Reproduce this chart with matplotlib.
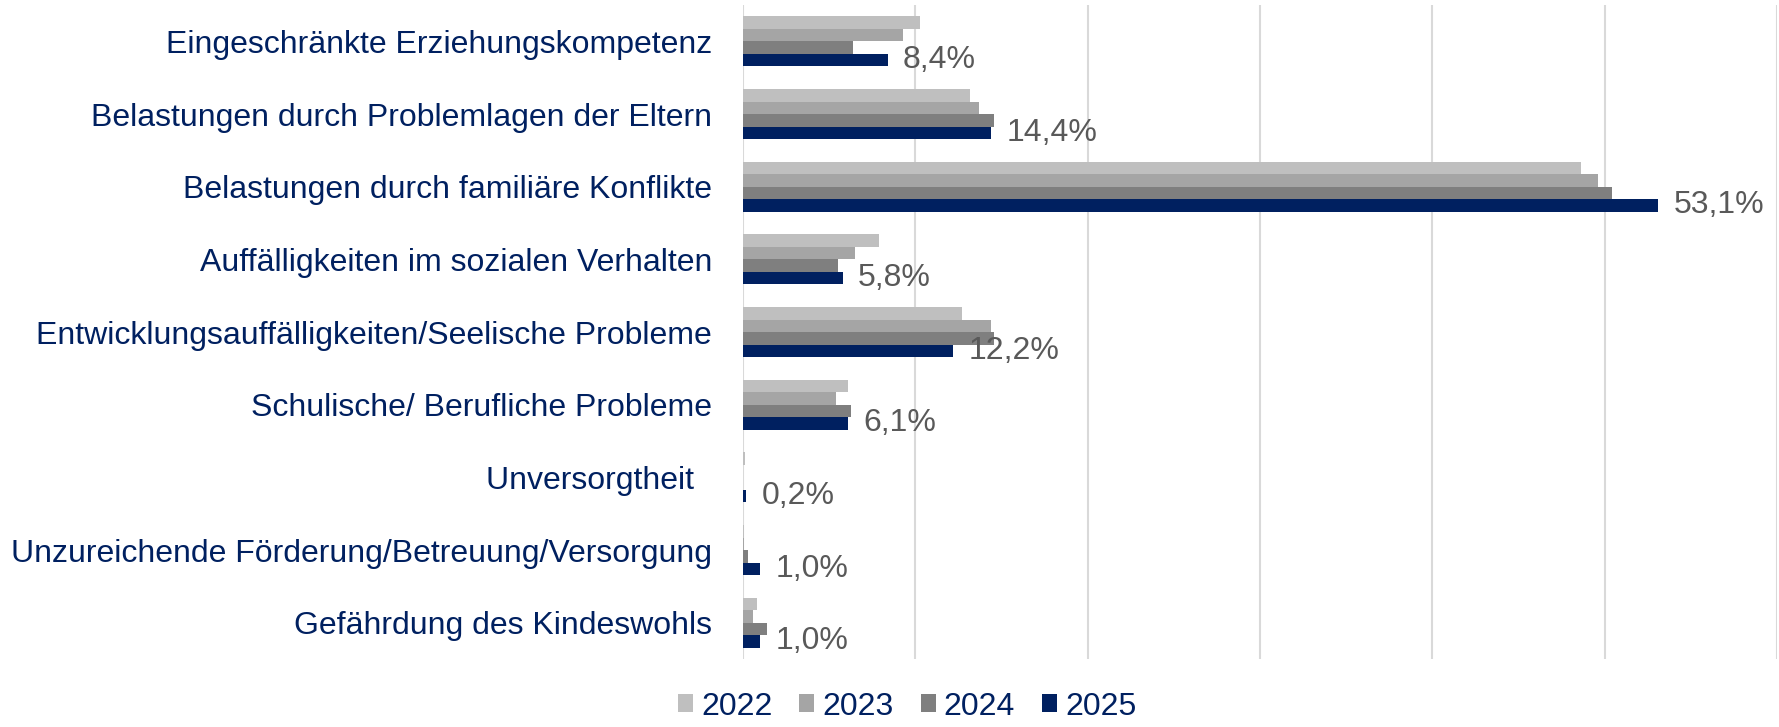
import numpy as np
import matplotlib
matplotlib.use("Agg")
import matplotlib.pyplot as plt

# Daten
kategorien = [
    "Eingeschränkte Erziehungskompetenz",
    "Belastungen durch Problemlagen der Eltern",
    "Belastungen durch familiäre Konflikte",
    "Auffälligkeiten im sozialen Verhalten",
    "Entwicklungsauffälligkeiten/Seelische Probleme",
    "Schulische/ Berufliche Probleme",
    "Unversorgtheit  ",
    "Unzureichende Förderung/Betreuung/Versorgung",
    "Gefährdung des Kindeswohls",
]
jahre = ["2022", "2023", "2024", "2025"]
werte_2022 = [10.3, 13.2, 48.6, 7.9, 12.7, 6.1, 0.15, 0.05, 0.85]
werte_2023 = [9.3, 13.7, 49.6, 6.5, 14.4, 5.4, 0.0, 0.05, 0.6]
werte_2024 = [6.4, 14.6, 50.4, 5.5, 14.6, 6.3, 0.0, 0.3, 1.4]
werte_2025 = [8.4, 14.4, 53.1, 5.8, 12.2, 6.1, 0.2, 1.0, 1.0]
beschriftung_2025 = ["8,4%", "14,4%", "53,1%", "5,8%", "12,2%", "6,1%", "0,2%", "1,0%", "1,0%"]

farben = ["#BFBFBF", "#A5A5A5", "#7F7F7F", "#002060"]
navy = "#002060"

plt.rcParams['font.family'] = ['Liberation Sans', 'DejaVu Sans']

fig = plt.figure(figsize=(17.79, 7.27), dpi=100)
ax = fig.add_axes([0.4175, 0.0935, 0.5815, 0.8995])

y = np.arange(len(kategorien))
h = 0.172
serien = [werte_2022, werte_2023, werte_2024, werte_2025]
for i, (werte, jahr, farbe) in enumerate(zip(serien, jahre, farben)):
    bars = ax.barh(y + (i - 1.5) * h, werte, height=h, color=farbe, label=jahr, zorder=3)
    if jahr == "2025":
        ax.bar_label(bars, labels=beschriftung_2025, padding=11, fontsize=23, color="#595959")

ax.set_xlim(0, 60)
ax.set_ylim(len(kategorien) - 0.5, -0.5)
ax.set_xticks(np.arange(0, 61, 10))
ax.set_xticklabels([])
ax.tick_params(axis="x", length=0)
ax.tick_params(axis="y", length=0, pad=22)
ax.set_yticks(y)
ax.set_yticklabels(kategorien, fontsize=23, color=navy)
ax.grid(axis="x", color="#D9D9D9", linewidth=1.5, zorder=0)
for s in ax.spines.values():
    s.set_visible(False)

leg = fig.legend(loc="lower center", bbox_to_anchor=(0.51, -0.032), ncol=4, frameon=False,
                 fontsize=23, handlelength=0.47, handleheight=0.47, handletextpad=0.25,
                 columnspacing=0.85)
for t in leg.get_texts():
    t.set_color(navy)

fig.savefig("out.png", dpi=100)
